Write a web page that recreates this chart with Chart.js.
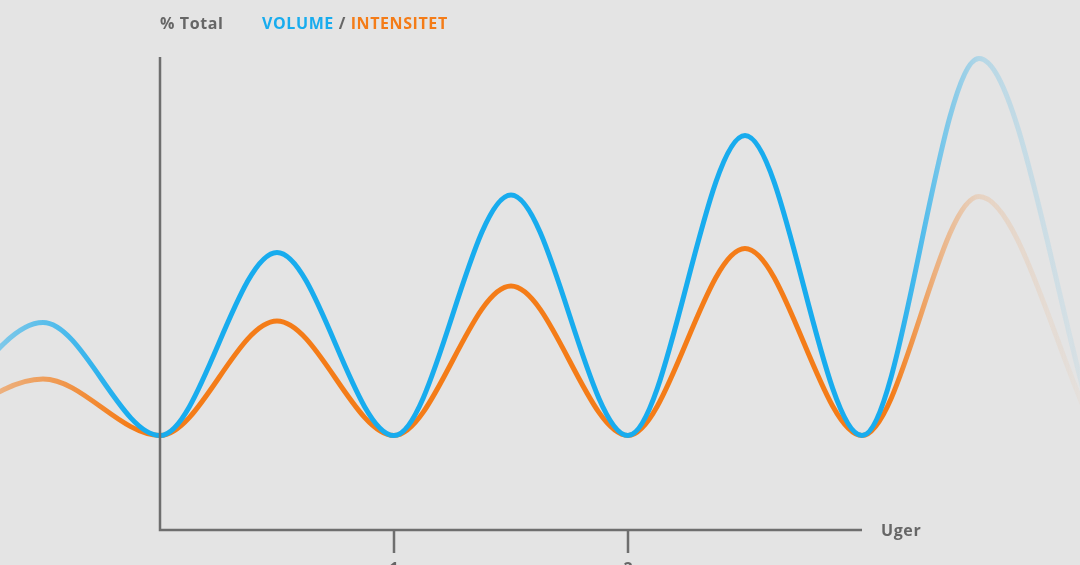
<!DOCTYPE html>
<html>
<head>
<meta charset="utf-8">
<script src="https://cdn.jsdelivr.net/npm/chart.js@4"></script>
<style>
  html, body { margin: 0; padding: 0; background: #e4e4e4; }
  #wrap { position: relative; width: 1080px; height: 565px; overflow: hidden; }
  canvas { position: absolute; left: 0; top: 0; }
  .lbl { position: absolute; font-family: "Open Sans", sans-serif; font-weight: 700; font-size: 16px; letter-spacing: 0.6px; color: #666; white-space: nowrap; line-height: 1; }
</style>
</head>
<body>
<div id="wrap">
  <canvas id="c" width="1080" height="565"></canvas>
  <div class="lbl" style="left:160px; top:15px;">% Total</div>
  <div class="lbl" style="left:262px; top:15px;"><span style="color:#18acee">VOLUME</span> / <span style="color:#f47c18">INTENSITET</span></div>
</div>
<script>
// Data (x in weeks, y in % total)
const weeks      = [-1, -0.5, 0, 0.5, 1, 1.5, 2, 2.5, 3, 3.5, 4];
const volume     = [18.9, 41.5, 18.9, 55.5, 18.9, 67.0, 18.9, 78.9, 18.9, 94.3, 18.9];
const intensitet = [18.9, 30.2, 18.9, 41.8, 18.9, 48.8, 18.9, 56.3, 18.9, 66.7, 18.9];
const tickWeeks  = [1, 2];
const tickLabels = ['1', '2'];
const xAxisEnd = 3;
const yAxisTop = 94.6;
const xTitle = 'Uger';

function fadeGradient(chart, r, g, b, stops) {
  const area = chart.chartArea;
  const c = `rgba(${r},${g},${b},`;
  if (!area) return c + '1)';
  const grad = chart.ctx.createLinearGradient(area.left, 0, area.right, 0);
  stops.forEach(s => grad.addColorStop(s[0], c + s[1] + ')'));
  return grad;
}

const blueStops   = [[0, 0.5], [0.12, 1], [0.825, 1], [0.87, 0.55], [0.91, 0.22], [1, 0.06]];
const orangeStops = [[0, 0.5], [0.12, 1], [0.825, 1], [0.865, 0.5], [0.905, 0.17], [1, 0.04]];

const axesPlugin = {
  id: 'axesPlugin',
  afterDatasetsDraw(chart) {
    const ctx = chart.ctx;
    const xs = chart.scales.x, ys = chart.scales.y;
    const x0 = xs.getPixelForValue(0), y0 = ys.getPixelForValue(0);
    const xEnd = xs.getPixelForValue(xAxisEnd), yTop = ys.getPixelForValue(yAxisTop);
    ctx.save();
    ctx.strokeStyle = '#6e6e6e';
    ctx.lineWidth = 2.5;
    ctx.lineCap = 'butt';
    ctx.beginPath();
    ctx.moveTo(x0, yTop);
    ctx.lineTo(x0, y0);
    ctx.lineTo(xEnd, y0);
    ctx.stroke();
    ctx.fillStyle = '#666';
    ctx.font = '700 16px "Open Sans", sans-serif';
    tickWeeks.forEach((w, i) => {
      const px = xs.getPixelForValue(w);
      ctx.beginPath();
      ctx.moveTo(px, y0);
      ctx.lineTo(px, y0 + 23);
      ctx.stroke();
      ctx.textAlign = 'center';
      ctx.textBaseline = 'top';
      ctx.fillText(tickLabels[i], px, y0 + 31);
    });
    ctx.textAlign = 'left';
    ctx.textBaseline = 'middle';
    const t = xTitle;
    let xp = xEnd + 19;
    for (const ch of t) {
      ctx.fillText(ch, xp, y0 + 1);
      xp += ctx.measureText(ch).width + 0.6;
    }
    ctx.restore();
  }
};

new Chart(document.getElementById('c'), {
  type: 'line',
  data: {
    datasets: [
      {
        label: 'VOLUME',
        data: weeks.map((w, i) => ({ x: w, y: volume[i] })),
        borderColor: (ctx) => fadeGradient(ctx.chart, 24, 172, 238, blueStops),
        borderWidth: 5,
        pointRadius: 0,
        cubicInterpolationMode: 'monotone',
        fill: false
      },
      {
        label: 'INTENSITET',
        data: weeks.map((w, i) => ({ x: w, y: intensitet[i] })),
        borderColor: (ctx) => fadeGradient(ctx.chart, 244, 124, 24, orangeStops),
        borderWidth: 5,
        pointRadius: 0,
        cubicInterpolationMode: 'monotone',
        fill: false
      }
    ]
  },
  options: {
    responsive: false,
    animation: false,
    layout: { padding: 0 },
    plugins: { legend: { display: false }, tooltip: { enabled: false } },
    scales: {
      x: { type: 'linear', display: false, min: -160 / 234, max: 920 / 234 },
      y: { type: 'linear', display: false, min: -7, max: 106 }
    }
  },
  plugins: [axesPlugin]
});
</script>
</body>
</html>
